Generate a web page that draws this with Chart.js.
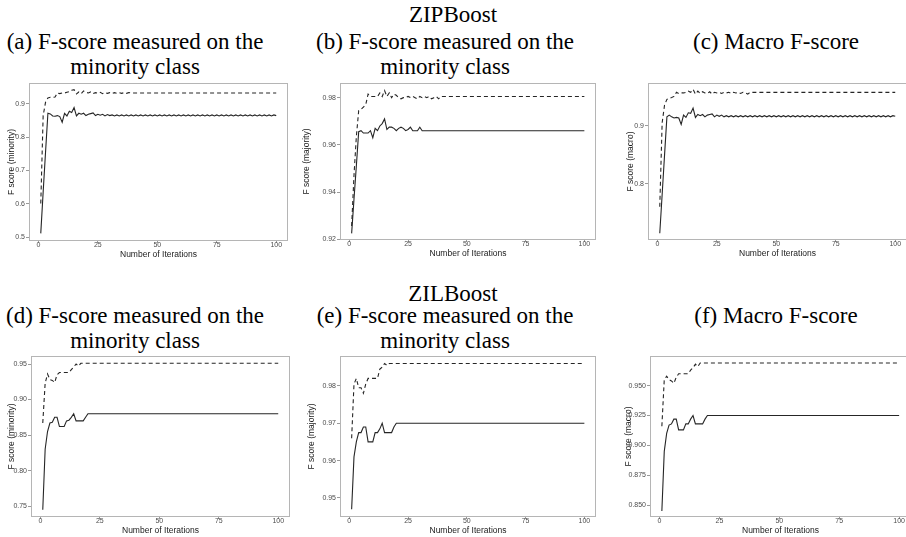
<!DOCTYPE html>
<html>
<head>
<meta charset="utf-8">
<script src="https://cdn.jsdelivr.net/npm/chart.js@4.4.0/dist/chart.umd.min.js"></script>
<style>
  body { margin: 0; width: 906px; height: 537px; overflow: hidden; background: #fff; position: relative; }
  .t { position: absolute; font-family: 'Liberation Serif', 'Times New Roman', serif; font-size: 23px;
       line-height: 25px; text-align: center; color: #000; white-space: nowrap; transform: translateX(-50%); }
  canvas { position: absolute; }
</style>
</head>
<body>
<div class="t" style="left:453px;top:2px">ZIPBoost</div>
<div class="t" style="left:135px;top:29px">(a) F-score measured on the<br>minority class</div>
<div class="t" style="left:445px;top:29px">(b) F-score measured on the<br>minority class</div>
<div class="t" style="left:776px;top:29px">(c) Macro F-score</div>
<div class="t" style="left:453px;top:281px">ZILBoost</div>
<div class="t" style="left:135px;top:303px">(d) F-score measured on the<br>minority class</div>
<div class="t" style="left:445px;top:303px">(e) F-score measured on the<br>minority class</div>
<div class="t" style="left:776px;top:303px">(f) Macro F-score</div>

<script>
// ========= Data =========
const iterations = [
  1, 2, 3, 4, 5, 6, 7, 8, 9, 10,
  11, 12, 13, 14, 15, 16, 17, 18, 19, 20,
  21, 22, 23, 24, 25, 26, 27, 28, 29, 30,
  31, 32, 33, 34, 35, 36, 37, 38, 39, 40,
  41, 42, 43, 44, 45, 46, 47, 48, 49, 50,
  51, 52, 53, 54, 55, 56, 57, 58, 59, 60,
  61, 62, 63, 64, 65, 66, 67, 68, 69, 70,
  71, 72, 73, 74, 75, 76, 77, 78, 79, 80,
  81, 82, 83, 84, 85, 86, 87, 88, 89, 90,
  91, 92, 93, 94, 95, 96, 97, 98, 99, 100
];
const xTickLabels = ['0', '25', '50', '75', '100'];

// (a) ZIPBoost, minority
const solidA = [
  0.511, 0.635, 0.755, 0.872, 0.870, 0.864, 0.863, 0.865, 0.862, 0.845,
  0.872, 0.864, 0.878, 0.874, 0.889, 0.864, 0.872, 0.869, 0.872, 0.865,
  0.869, 0.871, 0.873, 0.865, 0.869, 0.866, 0.869, 0.864, 0.868, 0.865,
  0.867, 0.864, 0.867, 0.864, 0.867, 0.864, 0.867, 0.864, 0.867, 0.864,
  0.867, 0.864, 0.867, 0.864, 0.867, 0.864, 0.867, 0.864, 0.867, 0.864,
  0.867, 0.864, 0.867, 0.864, 0.867, 0.864, 0.867, 0.864, 0.867, 0.864,
  0.867, 0.864, 0.867, 0.864, 0.867, 0.864, 0.867, 0.864, 0.867, 0.864,
  0.867, 0.864, 0.867, 0.864, 0.867, 0.864, 0.867, 0.864, 0.867, 0.864,
  0.867, 0.864, 0.867, 0.864, 0.867, 0.864, 0.867, 0.864, 0.867, 0.864,
  0.867, 0.864, 0.867, 0.864, 0.867, 0.864, 0.867, 0.864, 0.867, 0.865
];
const dashedA = [
  0.601, 0.865, 0.905, 0.918, 0.920, 0.920, 0.921, 0.933, 0.931, 0.933,
  0.933, 0.935, 0.937, 0.941, 0.943, 0.930, 0.936, 0.931, 0.939, 0.935,
  0.933, 0.936, 0.931, 0.934, 0.932, 0.935, 0.931, 0.934, 0.932, 0.934,
  0.931, 0.934, 0.932, 0.934, 0.932, 0.934, 0.932, 0.934, 0.933, 0.933,
  0.933, 0.933, 0.933, 0.933, 0.933, 0.933, 0.933, 0.933, 0.933, 0.933,
  0.933, 0.933, 0.933, 0.933, 0.933, 0.933, 0.933, 0.933, 0.933, 0.933,
  0.933, 0.933, 0.933, 0.933, 0.933, 0.933, 0.933, 0.933, 0.933, 0.933,
  0.933, 0.933, 0.933, 0.933, 0.933, 0.933, 0.933, 0.933, 0.933, 0.933,
  0.933, 0.933, 0.933, 0.933, 0.933, 0.933, 0.933, 0.933, 0.933, 0.933,
  0.933, 0.933, 0.933, 0.933, 0.933, 0.933, 0.933, 0.933, 0.933, 0.933
];
const yTicksA = ['0.5', '0.6', '0.7', '0.8', '0.9'];

// (b) ZIPBoost, majority
const solidB = [
  0.9225, 0.937, 0.951, 0.9656, 0.966, 0.965, 0.965, 0.965, 0.966, 0.963,
  0.967, 0.966, 0.968, 0.969, 0.971, 0.9665, 0.9675, 0.9675, 0.967, 0.966,
  0.967, 0.9675, 0.967, 0.966, 0.9665, 0.9675, 0.966, 0.966, 0.966, 0.9675,
  0.966, 0.966, 0.966, 0.966, 0.966, 0.966, 0.966, 0.966, 0.966, 0.966,
  0.966, 0.966, 0.966, 0.966, 0.966, 0.966, 0.966, 0.966, 0.966, 0.966,
  0.966, 0.966, 0.966, 0.966, 0.966, 0.966, 0.966, 0.966, 0.966, 0.966,
  0.966, 0.966, 0.966, 0.966, 0.966, 0.966, 0.966, 0.966, 0.966, 0.966,
  0.966, 0.966, 0.966, 0.966, 0.966, 0.966, 0.966, 0.966, 0.966, 0.966,
  0.966, 0.966, 0.966, 0.966, 0.966, 0.966, 0.966, 0.966, 0.966, 0.966,
  0.966, 0.966, 0.966, 0.966, 0.966, 0.966, 0.966, 0.966, 0.966, 0.966
];
const dashedB = [
  0.9256, 0.947, 0.9635, 0.9745, 0.975, 0.976, 0.977, 0.9815, 0.9805, 0.9805,
  0.9805, 0.9805, 0.982, 0.9805, 0.983, 0.9805, 0.982, 0.980, 0.9815, 0.981,
  0.980, 0.9795, 0.980, 0.980, 0.9805, 0.980, 0.9805, 0.980, 0.9795, 0.9805,
  0.980, 0.9805, 0.980, 0.9805, 0.9795, 0.980, 0.9805, 0.9795, 0.9805, 0.9805,
  0.9805, 0.9805, 0.9805, 0.9805, 0.9805, 0.9805, 0.9805, 0.9805, 0.9805, 0.9805,
  0.9805, 0.9805, 0.9805, 0.9805, 0.9805, 0.9805, 0.9805, 0.9805, 0.9805, 0.9805,
  0.9805, 0.9805, 0.9805, 0.9805, 0.9805, 0.9805, 0.9805, 0.9805, 0.9805, 0.9805,
  0.9805, 0.9805, 0.9805, 0.9805, 0.9805, 0.9805, 0.9805, 0.9805, 0.9805, 0.9805,
  0.9805, 0.9805, 0.9805, 0.9805, 0.9805, 0.9805, 0.9805, 0.9805, 0.9805, 0.9805,
  0.9805, 0.9805, 0.9805, 0.9805, 0.9805, 0.9805, 0.9805, 0.9805, 0.9805, 0.9805
];
const yTicksB = ['0.92', '0.94', '0.96', '0.98'];

// (c) ZIPBoost, macro
const solidC = [
  0.7155, 0.782, 0.849, 0.915, 0.918, 0.915, 0.913, 0.914, 0.913, 0.902,
  0.918, 0.914, 0.922, 0.921, 0.930, 0.914, 0.919, 0.917, 0.919, 0.915,
  0.918, 0.919, 0.920, 0.915, 0.918, 0.916, 0.918, 0.915, 0.917, 0.915,
  0.917, 0.915, 0.917, 0.915, 0.917, 0.915, 0.917, 0.915, 0.917, 0.915,
  0.917, 0.915, 0.917, 0.915, 0.917, 0.915, 0.917, 0.915, 0.917, 0.915,
  0.917, 0.915, 0.917, 0.915, 0.917, 0.915, 0.917, 0.915, 0.917, 0.915,
  0.917, 0.915, 0.917, 0.915, 0.917, 0.915, 0.917, 0.915, 0.917, 0.915,
  0.917, 0.915, 0.917, 0.915, 0.917, 0.915, 0.917, 0.915, 0.917, 0.915,
  0.917, 0.915, 0.917, 0.915, 0.917, 0.915, 0.917, 0.915, 0.917, 0.915,
  0.917, 0.915, 0.917, 0.915, 0.917, 0.915, 0.917, 0.915, 0.917, 0.916
];
const dashedC = [
  0.761, 0.905, 0.935, 0.945, 0.947, 0.948, 0.950, 0.957, 0.955, 0.956,
  0.956, 0.957, 0.959, 0.957, 0.962, 0.954, 0.959, 0.955, 0.958, 0.956,
  0.955, 0.958, 0.954, 0.957, 0.956, 0.957, 0.955, 0.957, 0.956, 0.957,
  0.955, 0.957, 0.956, 0.957, 0.955, 0.957, 0.956, 0.954, 0.957, 0.957,
  0.957, 0.957, 0.957, 0.957, 0.957, 0.957, 0.957, 0.957, 0.957, 0.957,
  0.957, 0.957, 0.957, 0.957, 0.957, 0.957, 0.957, 0.957, 0.957, 0.957,
  0.957, 0.957, 0.957, 0.957, 0.957, 0.957, 0.957, 0.957, 0.957, 0.957,
  0.957, 0.957, 0.957, 0.957, 0.957, 0.957, 0.957, 0.957, 0.957, 0.957,
  0.957, 0.957, 0.957, 0.957, 0.957, 0.957, 0.957, 0.957, 0.957, 0.957,
  0.957, 0.957, 0.957, 0.957, 0.957, 0.957, 0.957, 0.957, 0.957, 0.957
];
const yTicksC = ['0.8', '0.9'];

// (d) ZILBoost, minority
const solidD = [
  0.745, 0.830, 0.855, 0.867, 0.868, 0.875, 0.875, 0.862, 0.862, 0.862,
  0.870, 0.871, 0.875, 0.880, 0.870, 0.870, 0.870, 0.870, 0.875, 0.880,
  0.880, 0.880, 0.880, 0.880, 0.880, 0.880, 0.880, 0.880, 0.880, 0.880,
  0.880, 0.880, 0.880, 0.880, 0.880, 0.880, 0.880, 0.880, 0.880, 0.880,
  0.880, 0.880, 0.880, 0.880, 0.880, 0.880, 0.880, 0.880, 0.880, 0.880,
  0.880, 0.880, 0.880, 0.880, 0.880, 0.880, 0.880, 0.880, 0.880, 0.880,
  0.880, 0.880, 0.880, 0.880, 0.880, 0.880, 0.880, 0.880, 0.880, 0.880,
  0.880, 0.880, 0.880, 0.880, 0.880, 0.880, 0.880, 0.880, 0.880, 0.880,
  0.880, 0.880, 0.880, 0.880, 0.880, 0.880, 0.880, 0.880, 0.880, 0.880,
  0.880, 0.880, 0.880, 0.880, 0.880, 0.880, 0.880, 0.880, 0.880, 0.880
];
const dashedD = [
  0.867, 0.923, 0.936, 0.928, 0.927, 0.924, 0.935, 0.938, 0.938, 0.938,
  0.938, 0.938, 0.942, 0.946, 0.950, 0.947, 0.951, 0.951, 0.951, 0.951,
  0.951, 0.951, 0.951, 0.951, 0.951, 0.951, 0.951, 0.951, 0.951, 0.951,
  0.951, 0.951, 0.951, 0.951, 0.951, 0.951, 0.951, 0.951, 0.951, 0.951,
  0.951, 0.951, 0.951, 0.951, 0.951, 0.951, 0.951, 0.951, 0.951, 0.951,
  0.951, 0.951, 0.951, 0.951, 0.951, 0.951, 0.951, 0.951, 0.951, 0.951,
  0.951, 0.951, 0.951, 0.951, 0.951, 0.951, 0.951, 0.951, 0.951, 0.951,
  0.951, 0.951, 0.951, 0.951, 0.951, 0.951, 0.951, 0.951, 0.951, 0.951,
  0.951, 0.951, 0.951, 0.951, 0.951, 0.951, 0.951, 0.951, 0.951, 0.951,
  0.951, 0.951, 0.951, 0.951, 0.951, 0.951, 0.951, 0.951, 0.951, 0.951
];
const yTicksD = ['0.75', '0.80', '0.85', '0.90', '0.95'];

// (e) ZILBoost, majority
const solidE = [
  0.947, 0.961, 0.965, 0.9675, 0.9675, 0.969, 0.969, 0.965, 0.965, 0.965,
  0.9675, 0.9675, 0.9685, 0.970, 0.9675, 0.9675, 0.9675, 0.9675, 0.969, 0.970,
  0.970, 0.970, 0.970, 0.970, 0.970, 0.970, 0.970, 0.970, 0.970, 0.970,
  0.970, 0.970, 0.970, 0.970, 0.970, 0.970, 0.970, 0.970, 0.970, 0.970,
  0.970, 0.970, 0.970, 0.970, 0.970, 0.970, 0.970, 0.970, 0.970, 0.970,
  0.970, 0.970, 0.970, 0.970, 0.970, 0.970, 0.970, 0.970, 0.970, 0.970,
  0.970, 0.970, 0.970, 0.970, 0.970, 0.970, 0.970, 0.970, 0.970, 0.970,
  0.970, 0.970, 0.970, 0.970, 0.970, 0.970, 0.970, 0.970, 0.970, 0.970,
  0.970, 0.970, 0.970, 0.970, 0.970, 0.970, 0.970, 0.970, 0.970, 0.970,
  0.970, 0.970, 0.970, 0.970, 0.970, 0.970, 0.970, 0.970, 0.970, 0.970
];
const dashedE = [
  0.966, 0.9805, 0.982, 0.9795, 0.9795, 0.978, 0.9805, 0.982, 0.982, 0.982,
  0.982, 0.982, 0.9845, 0.985, 0.986, 0.9855, 0.986, 0.986, 0.986, 0.986,
  0.986, 0.986, 0.986, 0.986, 0.986, 0.986, 0.986, 0.986, 0.986, 0.986,
  0.986, 0.986, 0.986, 0.986, 0.986, 0.986, 0.986, 0.986, 0.986, 0.986,
  0.986, 0.986, 0.986, 0.986, 0.986, 0.986, 0.986, 0.986, 0.986, 0.986,
  0.986, 0.986, 0.986, 0.986, 0.986, 0.986, 0.986, 0.986, 0.986, 0.986,
  0.986, 0.986, 0.986, 0.986, 0.986, 0.986, 0.986, 0.986, 0.986, 0.986,
  0.986, 0.986, 0.986, 0.986, 0.986, 0.986, 0.986, 0.986, 0.986, 0.986,
  0.986, 0.986, 0.986, 0.986, 0.986, 0.986, 0.986, 0.986, 0.986, 0.986,
  0.986, 0.986, 0.986, 0.986, 0.986, 0.986, 0.986, 0.986, 0.986, 0.986
];
const yTicksE = ['0.95', '0.96', '0.97', '0.98'];

// (f) ZILBoost, macro
const solidF = [
  0.845, 0.895, 0.910, 0.917, 0.918, 0.922, 0.922, 0.913, 0.913, 0.913,
  0.918, 0.918, 0.922, 0.925, 0.918, 0.918, 0.918, 0.918, 0.922, 0.925,
  0.925, 0.925, 0.925, 0.925, 0.925, 0.925, 0.925, 0.925, 0.925, 0.925,
  0.925, 0.925, 0.925, 0.925, 0.925, 0.925, 0.925, 0.925, 0.925, 0.925,
  0.925, 0.925, 0.925, 0.925, 0.925, 0.925, 0.925, 0.925, 0.925, 0.925,
  0.925, 0.925, 0.925, 0.925, 0.925, 0.925, 0.925, 0.925, 0.925, 0.925,
  0.925, 0.925, 0.925, 0.925, 0.925, 0.925, 0.925, 0.925, 0.925, 0.925,
  0.925, 0.925, 0.925, 0.925, 0.925, 0.925, 0.925, 0.925, 0.925, 0.925,
  0.925, 0.925, 0.925, 0.925, 0.925, 0.925, 0.925, 0.925, 0.925, 0.925,
  0.925, 0.925, 0.925, 0.925, 0.925, 0.925, 0.925, 0.925, 0.925, 0.925
];
const dashedF = [
  0.916, 0.955, 0.958, 0.955, 0.954, 0.952, 0.957, 0.960, 0.960, 0.960,
  0.960, 0.960, 0.963, 0.965, 0.968, 0.966, 0.969, 0.969, 0.969, 0.969,
  0.969, 0.969, 0.969, 0.969, 0.969, 0.969, 0.969, 0.969, 0.969, 0.969,
  0.969, 0.969, 0.969, 0.969, 0.969, 0.969, 0.969, 0.969, 0.969, 0.969,
  0.969, 0.969, 0.969, 0.969, 0.969, 0.969, 0.969, 0.969, 0.969, 0.969,
  0.969, 0.969, 0.969, 0.969, 0.969, 0.969, 0.969, 0.969, 0.969, 0.969,
  0.969, 0.969, 0.969, 0.969, 0.969, 0.969, 0.969, 0.969, 0.969, 0.969,
  0.969, 0.969, 0.969, 0.969, 0.969, 0.969, 0.969, 0.969, 0.969, 0.969,
  0.969, 0.969, 0.969, 0.969, 0.969, 0.969, 0.969, 0.969, 0.969, 0.969,
  0.969, 0.969, 0.969, 0.969, 0.969, 0.969, 0.969, 0.969, 0.969, 0.969
];
const yTicksF = ['0.850', '0.875', '0.900', '0.925', '0.950'];

// ========= Styling =========
const sans = "'Liberation Sans', Arial, sans-serif";
const tickColor = '#4d4d4d';
const lineColor = '#262626';

// grey frame round the plotting area (ggplot panel border)
const frame = {
  id: 'frame',
  beforeDatasetsDraw(chart) {
    const { ctx, chartArea: a } = chart;
    ctx.save();
    ctx.strokeStyle = '#b5b5b5';
    ctx.lineWidth = 1;
    ctx.strokeRect(Math.round(a.left) + 0.5, Math.round(a.top) + 0.5,
                   Math.round(a.right - a.left) - 1, Math.round(a.bottom - a.top) - 1);
    ctx.restore();
  }
};

// ========= Panels =========
function drawPanel(p) {
  const padTop = 6, padRight = 8, xH = 19;
  const yW = p.left - (p.titleX - 5);
  const cv = document.createElement('canvas');
  cv.width = yW + (p.right - p.left) + padRight;
  cv.height = padTop + (p.bottom - p.top) + xH;
  cv.style.left = (p.left - yW) + 'px';
  cv.style.top = (p.top - padTop) + 'px';
  document.body.appendChild(cv);

  const toPts = vals => iterations.map((it, i) => ({ x: it, y: vals[i] }));

  new Chart(cv, {
    type: 'line',
    data: {
      datasets: [
        { data: toPts(p.solid), borderColor: lineColor, borderWidth: 1.1, pointRadius: 0, tension: 0 },
        { data: toPts(p.dashed), borderColor: lineColor, borderWidth: 1.1, borderDash: [4, 3], pointRadius: 0, tension: 0 }
      ]
    },
    options: {
      responsive: false,
      animation: false,
      layout: { padding: { top: padTop, right: padRight, left: 0, bottom: 0 } },
      plugins: { legend: { display: false }, tooltip: { enabled: false } },
      scales: {
        x: {
          type: 'linear', min: -3.95, max: 104.95,
          afterBuildTicks: s => { s.ticks = xTickLabels.map(v => ({ value: parseFloat(v) })); },
          afterFit: s => { s.height = xH; },
          grid: { drawOnChartArea: false, tickLength: 2, color: '#9a9a9a' },
          border: { display: false },
          ticks: { padding: -2, maxRotation: 0, color: tickColor, font: { family: sans, size: 7 },
                   callback: (v, i) => xTickLabels[i] },
          title: { display: true, text: 'Number of Iterations', padding: 0, color: '#1a1a1a',
                   font: { family: sans, size: 8.5 } }
        },
        y: {
          type: 'linear', min: p.yMin, max: p.yMax,
          afterBuildTicks: s => { s.ticks = p.yTicks.map(v => ({ value: parseFloat(v) })); },
          afterFit: s => { s.width = yW; },
          grid: { drawOnChartArea: false, tickLength: 3, color: '#9a9a9a' },
          border: { display: false },
          ticks: { padding: 1, color: tickColor, font: { family: sans, size: 7 },
                   callback: (v, i) => p.yTicks[i] },
          title: { display: true, text: p.yTitle, padding: 0, color: '#1a1a1a',
                   font: { family: sans, size: 8.5 } }
        }
      }
    },
    plugins: [frame]
  });
}

drawPanel({ left: 29, right: 288, top: 83, bottom: 241, titleX: 12,
  yMin: 0.488, yMax: 0.963, yTicks: yTicksA, yTitle: 'F score (minority)', solid: solidA, dashed: dashedA });
drawPanel({ left: 340, right: 596, top: 83, bottom: 240, titleX: 307,
  yMin: 0.9197, yMax: 0.9862, yTicks: yTicksB, yTitle: 'F score (majority)', solid: solidB, dashed: dashedB });
drawPanel({ left: 648, right: 907, top: 83, bottom: 240, titleX: 631,
  yMin: 0.704, yMax: 0.973, yTicks: yTicksC, yTitle: 'F score (macro)', solid: solidC, dashed: dashedC });
drawPanel({ left: 31, right: 290, top: 356, bottom: 517, titleX: 12,
  yMin: 0.7347, yMax: 0.9613, yTicks: yTicksD, yTitle: 'F score (minority)', solid: solidD, dashed: dashedD });
drawPanel({ left: 340, right: 596, top: 356, bottom: 517, titleX: 312,
  yMin: 0.9449, yMax: 0.988, yTicks: yTicksE, yTitle: 'F score (majority)', solid: solidE, dashed: dashedE });
drawPanel({ left: 650, right: 911, top: 356, bottom: 517, titleX: 629,
  yMin: 0.84, yMax: 0.9749, yTicks: yTicksF, yTitle: 'F score (macro)', solid: solidF, dashed: dashedF });
</script>
</body>
</html>
